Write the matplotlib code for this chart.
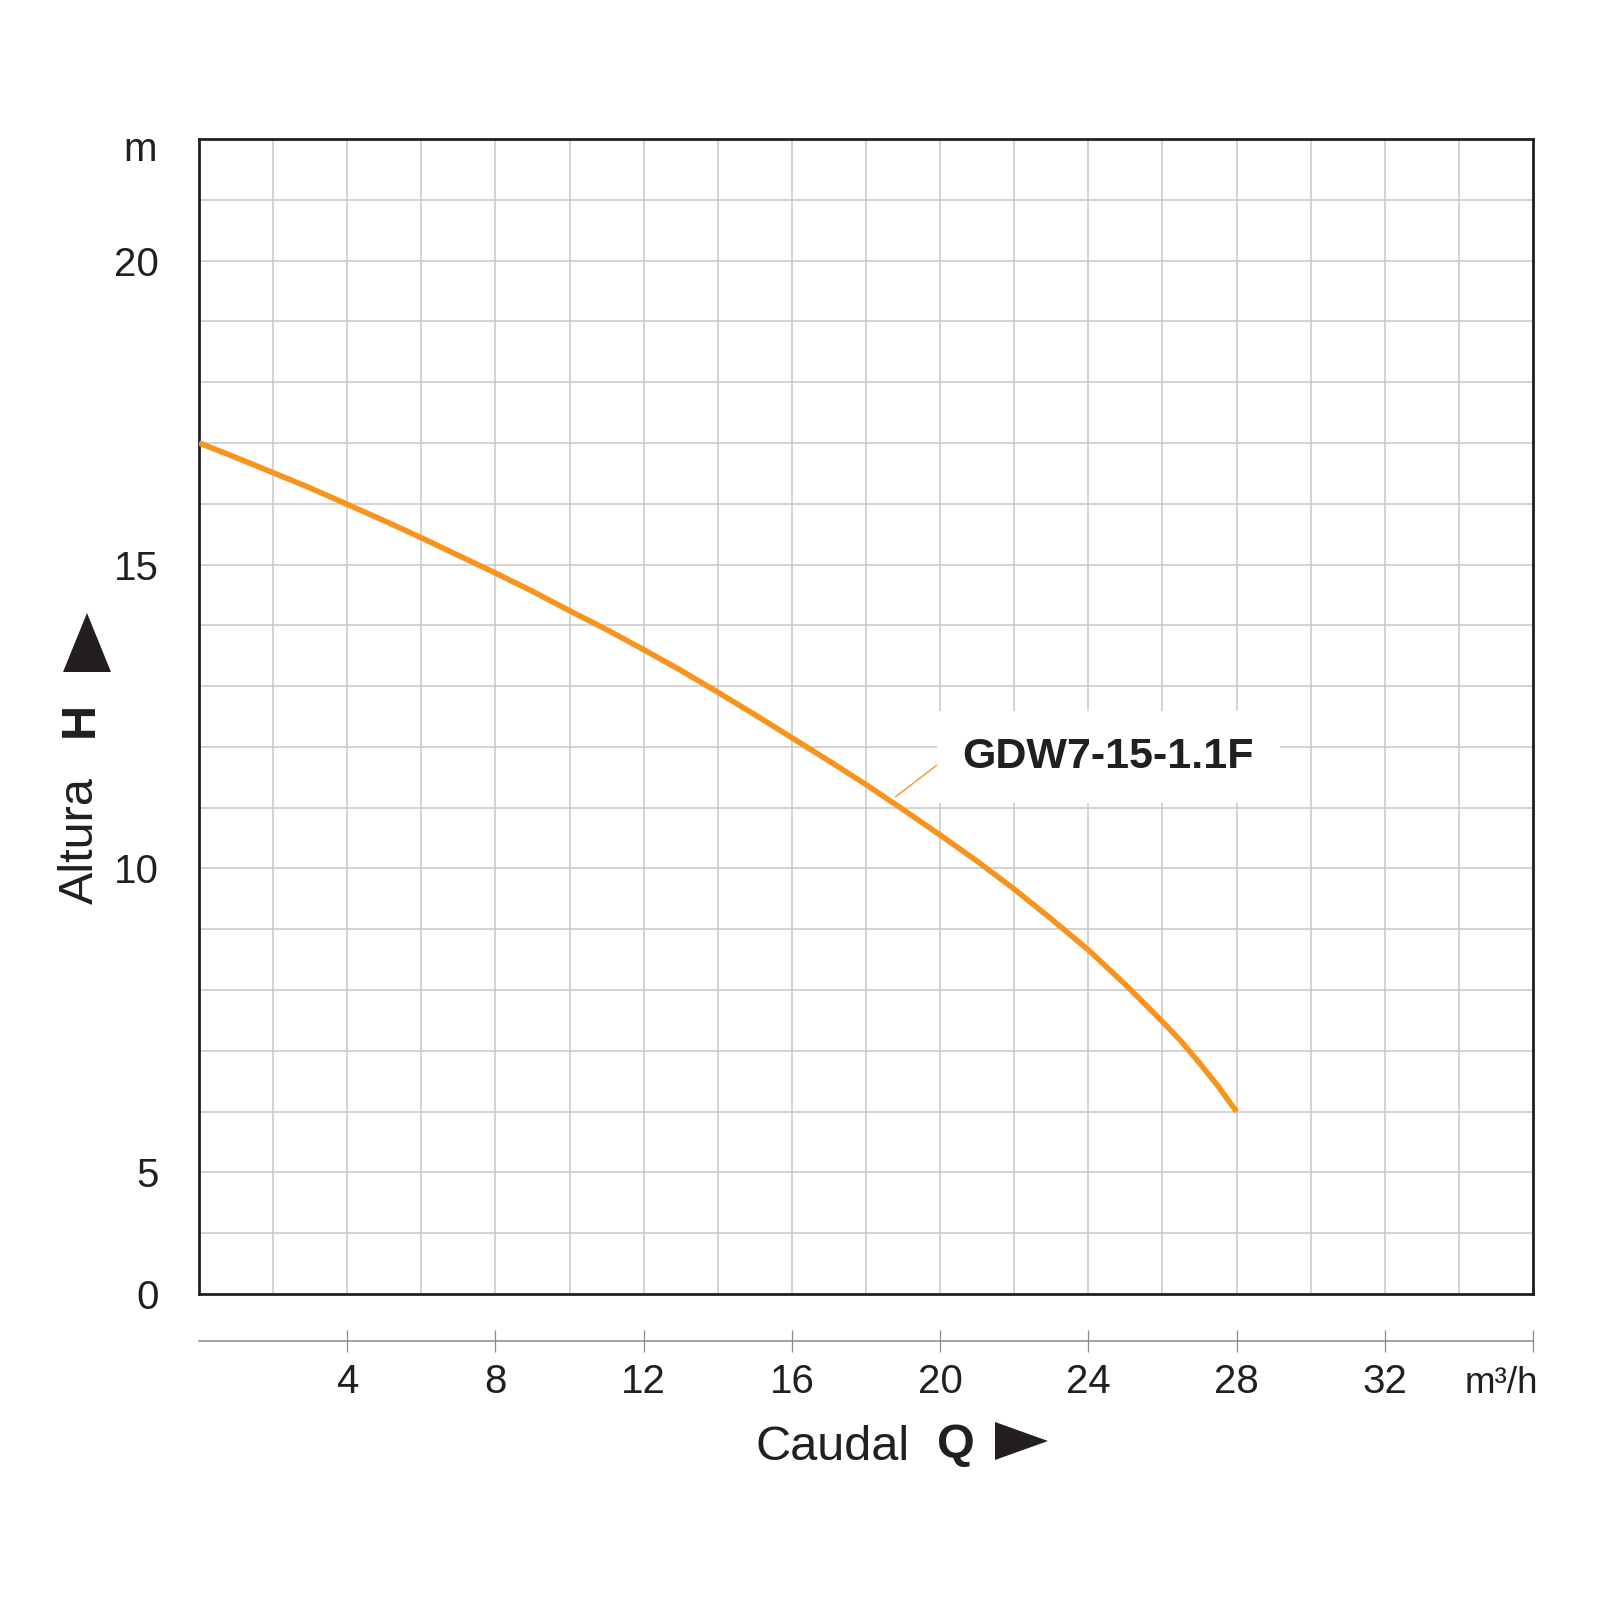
import matplotlib.pyplot as plt
from matplotlib.ticker import MultipleLocator, FixedLocator, FixedFormatter
from matplotlib.patches import Polygon

plt.rcParams['font.family'] = ['Liberation Sans', 'DejaVu Sans']

# Pump curve (Q in m3/h, H in m)
q = [0, 1, 2, 3, 4, 5, 6, 7, 8, 9, 10, 11, 12, 13, 14, 15, 16, 17, 18, 19,
     20, 21, 22, 23, 24, 25, 26, 26.5, 27, 27.5, 28]
h = [17.0, 16.76, 16.51, 16.26, 15.99, 15.72, 15.44, 15.15, 14.86, 14.56,
     14.24, 13.93, 13.6, 13.26, 12.9, 12.53, 12.15, 11.77, 11.38, 10.97,
     10.55, 10.12, 9.66, 9.17, 8.66, 8.09, 7.48, 7.16, 6.80, 6.42, 6.0]
model = "GDW7-15-1.1F"

# y axis is broken: the bottom edge (3) is labelled 0
y_ticks = [3, 5, 10, 15, 20]
y_labels = ["0", "5", "10", "15", "20"]
x_ticks = [4, 8, 12, 16, 20, 24, 28, 32, 36]
x_labels = ["4", "8", "12", "16", "20", "24", "28", "32", ""]

ink = "#231f20"
orange = "#f7941d"
W = 1600.0

fig = plt.figure(figsize=(16, 16), dpi=100)
ax = fig.add_axes([199 / W, 1 - 1294 / W, 1334 / W, 1155 / W])
ax.set_xlim(0, 36)
ax.set_ylim(3, 22)

ax.xaxis.set_major_locator(MultipleLocator(2))
ax.yaxis.set_major_locator(FixedLocator(y_ticks))
ax.yaxis.set_major_formatter(FixedFormatter(y_labels))
ax.yaxis.set_minor_locator(MultipleLocator(1))
ax.grid(True, which="both", color="#c8c8c8", lw=1.1)
ax.set_axisbelow(True)
ax.tick_params(axis="x", which="both", length=0, labelbottom=False)
ax.tick_params(axis="y", which="both", length=0, pad=29, labelsize=29, labelcolor=ink)
for s in ax.spines.values():
    s.set_color(ink)
    s.set_linewidth(2)

ax.plot(q, h, color=orange, lw=4.0, solid_joinstyle="round", solid_capstyle="butt", zorder=3)

ax.text(20.6, 11.655, model, fontsize=31, fontweight="bold", color=ink,
        ha="left", va="baseline", zorder=4,
        bbox=dict(boxstyle="square,pad=0.6", fc="white", ec="none"))
ax.plot([20.17, 18.8], [11.82, 11.18], color=orange, lw=1.0, zorder=3)

ax.text(-0.0315, 21.63, "m", transform=ax.get_yaxis_transform(), fontsize=29,
        color=ink, ha="right", va="baseline")

# separate flow scale under the chart
ax2 = fig.add_axes([199 / W, 1 - 1341 / W, 1334 / W, 0.0001])
ax2.set_xlim(0, 36)
ax2.patch.set_visible(False)
for k in ["top", "left", "right"]:
    ax2.spines[k].set_visible(False)
ax2.spines["bottom"].set_color("#8a8a8a")
ax2.spines["bottom"].set_linewidth(1.1)
ax2.set_yticks([])
ax2.xaxis.set_major_locator(FixedLocator(x_ticks))
ax2.xaxis.set_major_formatter(FixedFormatter(x_labels))
ax2.tick_params(axis="x", direction="inout", length=16.5, width=0.9, color="#8a8a8a",
                pad=7.5, labelsize=29, labelcolor=ink)
fig.text(1538 / W, 1 - 1393 / W, "m³/h", fontsize=26.5, color=ink, ha="right", va="baseline")

# axis titles with arrow heads
fig.text(755 / W, 1 - 1460 / W, "Caudal", fontsize=35, color=ink, ha="left", va="baseline")
fig.text(937 / W, 1 - 1458 / W, "Q", fontsize=35, fontweight="bold", color=ink,
         ha="left", va="baseline")
fig.patches.append(Polygon([[995 / W, 1 - 1422 / W], [995 / W, 1 - 1460 / W],
                            [1048 / W, 1 - 1441 / W]], closed=True, fc=ink, ec="none",
                           transform=fig.transFigure))

fig.text(80 / W, 1 - 841 / W, "Altura", fontsize=35, color=ink, rotation=90,
         ha="center", va="center")
fig.text(80 / W, 1 - 719 / W, "H", fontsize=35, fontweight="bold", color=ink, rotation=90,
         ha="center", va="center")
fig.patches.append(Polygon([[63 / W, 1 - 672 / W], [111 / W, 1 - 672 / W],
                            [87 / W, 1 - 613 / W]], closed=True, fc=ink, ec="none",
                           transform=fig.transFigure))

fig.savefig("out.png", dpi=100)
